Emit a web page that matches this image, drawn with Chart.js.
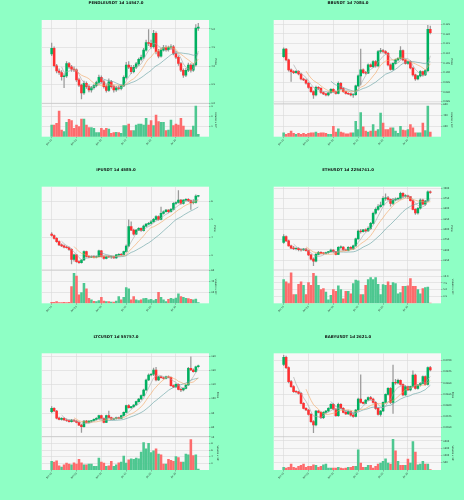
<!DOCTYPE html>
<html><head><meta charset="utf-8">
<script src="https://cdn.jsdelivr.net/npm/chart.js@4.4.1/dist/chart.umd.min.js"></script>
<style>
html,body{margin:0;padding:0;background:#8effc5;}
#wrap{position:relative;width:464px;height:500px;overflow:hidden;background:#8effc5;}
canvas{position:absolute;}
.ttl{position:absolute;width:232px;text-align:center;font-family:'DejaVu Sans',sans-serif;font-weight:bold;font-size:3.9px;line-height:5px;color:#111;white-space:nowrap;}
</style></head><body><div id="wrap"></div>
<script>
// ---------- data ----------
const tickIdx = [0, 10, 20, 30, 40, 50];
const tickDates = ['Jun 10', 'Jun 20', 'Jun 30', 'Jul 10', 'Jul 20', 'Jul 30'];
const mavWindows = [5, 10, 20];

// [open, high, low, close]
const pendleOHLC = [
[4.33,4.62,4.28,4.48],[4.48,4.52,3.98,4.01],[4.01,4.05,3.82,3.87],[3.87,3.93,3.78,3.83],[3.83,3.88,3.62,3.72],
[3.72,3.80,3.42,3.74],[3.74,4.12,3.70,4.07],[4.07,4.10,3.94,3.98],[3.98,4.02,3.86,3.92],[3.92,3.98,3.85,3.90],
[3.90,3.93,3.58,3.63],[3.63,3.68,3.45,3.49],[3.49,3.52,3.12,3.28],[3.28,3.60,3.24,3.54],[3.54,3.58,3.40,3.45],
[3.45,3.50,3.31,3.36],[3.36,3.46,3.30,3.42],[3.42,3.52,3.38,3.48],[3.48,3.60,3.44,3.56],[3.56,3.76,3.52,3.70],
[3.70,3.74,3.54,3.58],[3.58,3.62,3.41,3.45],[3.45,3.50,3.30,3.35],[3.35,3.66,3.32,3.58],[3.58,3.62,3.41,3.45],
[3.45,3.49,3.30,3.36],[3.36,3.46,3.32,3.42],[3.42,3.47,3.36,3.40],[3.40,3.50,3.36,3.47],[3.47,3.74,3.45,3.70],
[3.70,4.10,3.66,4.03],[4.03,4.12,3.93,3.97],[3.97,4.02,3.80,3.85],[3.85,4.02,3.82,3.97],[3.97,4.10,3.93,4.06],
[4.06,4.22,4.02,4.18],[4.18,4.30,4.14,4.24],[4.24,4.48,4.20,4.43],[4.43,4.70,4.40,4.63],[4.63,4.98,4.55,4.61],
[4.61,4.70,4.48,4.52],[4.52,4.96,4.48,4.88],[4.88,4.92,4.33,4.39],[4.39,4.45,4.22,4.27],[4.27,4.48,4.24,4.43],
[4.43,4.56,4.40,4.50],[4.50,4.55,4.40,4.44],[4.44,4.54,4.40,4.50],[4.50,4.58,4.45,4.52],[4.52,4.56,4.30,4.34],
[4.34,4.40,4.20,4.24],[4.24,4.28,4.02,4.07],[4.07,4.10,3.85,3.89],[3.89,3.93,3.70,3.76],[3.76,3.94,3.72,3.89],
[3.89,4.08,3.85,4.03],[4.03,4.07,3.84,3.89],[3.89,4.07,3.86,4.03],[4.03,5.12,4.00,5.02],[5.02,5.15,4.96,5.05]];
const pendleVol = [1.17,1.17,1.33,2.57,0.67,0.5,1.43,1.73,1.6,0.83,1.17,1.0,1.77,1.77,1.17,0.9,0.9,0.83,0.4,0.4,
0.83,0.67,0.83,0.77,0.33,0.4,0.43,0.4,0.33,1.1,1.1,1.27,0.6,0.6,1.17,1.27,1.27,1.17,1.83,1.17,
1.6,1.1,2.17,1.5,1.43,1.43,0.6,0.67,1.67,1.1,1.27,1.17,1.83,1.07,0.67,0.67,0.67,1.07,3.07,0.23];
const pendlePriceTicks = [3.0, 3.5, 4.0, 4.5, 5.0];
const pendleVolTicks = [1, 2, 3];

const bbOHLC = [
[.1083,.1128,.1078,.1121],[.1121,.1126,.1060,.1066],[.1066,.1070,.1008,.1014],[.1014,.1020,.0955,.1005],[.1005,.1010,.0994,.1000],
[.1000,.1012,.0996,.1006],[.1006,.1010,.0988,.0993],[.0993,.0998,.0962,.0967],[.0967,.0972,.0958,.0962],[.0962,.0966,.0940,.0945],
[.0945,.0950,.0918,.0924],[.0924,.0928,.0897,.0902],[.0902,.0906,.0867,.0884],[.0884,.0930,.0880,.0924],[.0924,.0928,.0912,.0919],
[.0919,.0922,.0893,.0897],[.0897,.0901,.0886,.0890],[.0890,.0894,.0879,.0884],[.0884,.0900,.0880,.0896],[.0896,.0918,.0892,.0914],
[.0914,.0917,.0898,.0902],[.0902,.0906,.0888,.0893],[.0893,.0952,.0890,.0945],[.0945,.0950,.0912,.0917],[.0917,.0921,.0898,.0902],
[.0902,.0905,.0889,.0893],[.0893,.0897,.0886,.0890],[.0890,.0893,.0880,.0884],[.0884,.0890,.0872,.0886],[.0886,.0936,.0882,.0931],
[.0931,.0988,.0926,.0983],[.0983,.1121,.0936,.1014],[.1014,.1020,.0995,.1000],[.1000,.1006,.0992,.0997],[.0997,.1046,.0994,.1040],
[.1040,.1045,.1028,.1031],[.1031,.1062,.1026,.1057],[.1057,.1062,.1028,.1034],[.1034,.1115,.1030,.1109],[.1109,.1125,.1100,.1114],
[.1114,.1120,.1102,.1109],[.1109,.1114,.1095,.1100],[.1100,.1105,.1035,.1040],[.1040,.1045,.1012,.1017],[.1017,.1052,.1012,.1048],
[.1048,.1070,.1044,.1066],[.1066,.1078,.1060,.1074],[.1074,.1134,.1070,.1114],[.1114,.1118,.1060,.1066],[.1066,.1070,.1044,.1048],
[.1048,.1060,.1042,.1057],[.1057,.1062,.1019,.1024],[.1024,.1028,.0982,.0988],[.0988,.0992,.0960,.0967],[.0967,.0986,.0962,.0983],
[.0983,.1010,.0978,.1005],[.1005,.1008,.0982,.0988],[.0988,.1014,.0984,.1010],[.1010,.1245,.1005,.1224],[.1224,.1240,.1200,.1207]];
const bbVol = [74,43,62,105,62,43,62,43,62,43,62,74,74,86,62,74,74,62,43,43,
197,86,148,86,74,55,55,74,74,289,135,455,185,105,86,105,228,105,135,443,
258,135,135,166,166,105,62,197,123,117,135,228,166,74,74,74,258,117,578,86];
const bbPriceTicks = [0.085,0.090,0.095,0.100,0.105,0.110,0.115,0.120,0.125];
const bbVolTicks = [200, 400, 600];

const ipOHLC = [
[4.20,4.28,4.08,4.12],[4.12,4.16,3.92,3.96],[3.96,4.00,3.74,3.78],[3.78,3.82,3.56,3.60],[3.60,3.66,3.50,3.55],
[3.55,3.60,3.44,3.48],[3.48,3.54,3.42,3.45],[3.45,3.50,3.30,3.36],[3.36,3.40,2.55,2.80],[2.80,3.10,2.70,3.05],
[3.05,3.08,2.64,2.68],[2.68,2.74,2.58,2.63],[2.63,2.80,2.60,2.77],[2.77,3.28,2.74,3.23],[3.23,3.26,2.92,2.97],
[2.97,3.02,2.88,2.93],[2.93,3.00,2.90,2.96],[2.96,3.00,2.88,2.92],[2.92,3.00,2.88,2.96],[2.96,3.32,2.94,3.27],
[3.27,3.30,2.93,2.96],[2.96,3.00,2.82,2.86],[2.86,2.98,2.83,2.95],[2.95,3.00,2.90,2.94],[2.94,2.99,2.86,2.96],
[2.96,2.99,2.86,2.89],[2.89,3.08,2.86,3.05],[3.05,3.12,3.00,3.08],[3.08,3.14,3.02,3.06],[3.06,3.26,3.04,3.23],
[3.23,3.60,3.20,3.54],[3.54,4.98,3.50,4.61],[4.61,4.88,4.38,4.42],[4.42,4.48,4.14,4.20],[4.20,4.46,4.16,4.42],
[4.42,4.56,4.38,4.51],[4.51,4.55,4.34,4.39],[4.39,4.70,4.36,4.64],[4.64,4.78,4.60,4.75],[4.75,4.84,4.70,4.79],
[4.79,4.95,4.74,4.88],[4.88,5.06,4.84,5.01],[5.01,5.22,4.96,5.16],[5.16,5.20,4.96,5.01],[5.01,5.68,4.98,5.34],
[5.34,5.48,5.30,5.43],[5.43,5.56,5.40,5.52],[5.52,5.55,5.38,5.43],[5.43,5.62,5.40,5.56],[5.56,5.94,5.52,5.89],
[5.89,5.98,5.84,5.94],[5.94,6.60,5.90,6.07],[6.07,6.12,5.84,5.89],[5.89,6.10,5.85,6.07],[6.07,6.16,6.02,6.11],
[6.11,6.15,5.98,6.04],[6.04,6.08,5.56,5.93],[5.93,6.10,5.86,5.94],[5.94,6.36,5.90,6.29],[6.29,6.34,6.24,6.30]];
const ipVol = [1.8,1.8,3.0,1.2,1.2,1.8,1.2,1.8,30.3,54.5,49.7,15.2,19.4,36.4,26.1,9.1,6.1,3.6,3.0,4.8,
10.9,4.2,3.0,3.0,2.4,2.4,4.2,12.1,6.1,10.9,28.5,26.1,6.1,12.1,6.1,4.8,6.1,8.5,9.1,6.1,
7.3,4.8,7.3,20.0,10.9,6.1,3.0,7.3,9.1,7.9,9.7,17.0,12.1,10.9,9.1,8.5,7.3,6.1,7.9,1.2];
const ipPriceTicks = [3, 4, 5, 6];
const ipVolTicks = [20, 40, 60];

const ethOHLC = [
[2685,2870,2660,2823],[2823,2840,2700,2720],[2720,2740,2590,2600],[2600,2620,2530,2545],[2545,2590,2510,2530],
[2530,2560,2500,2540],[2540,2560,2480,2505],[2505,2530,2470,2500],[2500,2540,2490,2525],[2525,2540,2470,2485],
[2485,2500,2360,2380],[2380,2400,2260,2280],[2280,2310,2120,2230],[2230,2420,2210,2395],[2395,2470,2380,2445],
[2445,2460,2400,2420],[2420,2440,2390,2418],[2418,2450,2400,2435],[2435,2470,2420,2460],[2460,2520,2450,2500],
[2500,2510,2440,2460],[2460,2470,2380,2395],[2395,2580,2385,2565],[2565,2600,2540,2570],[2570,2580,2490,2500],
[2500,2525,2485,2490],[2490,2580,2480,2565],[2565,2580,2510,2525],[2525,2620,2515,2600],[2600,2790,2590,2770],
[2770,2990,2760,2960],[2960,3000,2910,2945],[2945,3000,2930,2985],[2985,3010,2940,2960],[2960,3060,2950,3025],
[3025,3170,3000,3145],[3145,3420,3130,3390],[3390,3520,3370,3485],[3485,3600,3460,3550],[3550,3660,3530,3590],
[3590,3790,3580,3750],[3750,3860,3700,3765],[3765,3800,3700,3725],[3725,3740,3560,3630],[3630,3750,3600,3710],
[3710,3760,3690,3735],[3735,3770,3710,3750],[3750,3900,3730,3870],[3870,3890,3760,3805],[3805,3840,3770,3810],
[3810,3830,3740,3790],[3790,3800,3680,3695],[3695,3710,3470,3485],[3485,3500,3360,3400],[3400,3530,3370,3510],
[3510,3740,3490,3710],[3710,3730,3590,3610],[3610,3700,3580,3685],[3685,3930,3670,3910],[3910,3930,3870,3895]];
const ethVol = [8.75,7.9,7.25,11.25,3.25,3.25,7.0,7.9,6.6,3.25,7.6,6.6,11.0,10.0,6.6,5.0,5.4,4.1,1.25,2.9,
5.0,4.4,6.4,5.0,1.6,4.4,4.4,3.5,7.25,8.5,8.25,3.25,3.25,6.6,8.75,9.5,8.75,9.5,7.0,3.25,
6.9,6.6,7.9,6.6,7.6,7.25,3.5,3.9,6.25,6.25,6.4,9.1,6.25,6.25,5.0,3.5,5.4,5.75,6.0,0.1];
const ethPriceTicks = [2250, 2500, 2750, 3000, 3250, 3500, 3750, 4000];
const ethVolTicks = [2.5, 5.0, 7.5, 10.0];

const ltcOHLC = [
[91.0,94.5,90.2,93.3],[93.3,93.8,91.0,91.5],[91.5,92.0,86.0,86.5],[86.5,87.3,85.2,85.6],[85.6,86.8,85.0,86.3],
[86.3,86.8,84.8,85.2],[85.2,86.0,84.2,84.8],[84.8,85.4,83.6,84.0],[84.0,85.6,83.7,85.1],[85.1,85.5,84.1,84.4],
[84.4,84.8,83.1,83.5],[83.5,84.0,81.2,81.6],[81.6,82.2,76.5,80.5],[80.5,84.8,80.2,84.4],[84.4,84.9,83.2,83.5],
[83.5,84.8,83.2,84.4],[84.4,85.0,83.9,84.7],[84.7,86.0,84.4,85.6],[85.6,86.8,85.3,86.3],[86.3,88.6,86.0,88.2],
[88.2,88.6,86.0,86.3],[86.3,86.7,83.2,83.5],[83.5,88.6,83.3,88.2],[88.2,91.5,86.5,86.8],[86.8,87.3,85.5,85.8],
[85.8,86.6,85.4,86.2],[86.2,87.2,85.8,86.9],[86.9,87.3,86.0,86.3],[86.3,88.6,86.1,88.2],[88.2,90.9,88.0,90.5],
[90.5,95.6,90.3,95.2],[95.2,96.0,93.4,93.8],[93.8,94.8,93.2,94.5],[94.5,96.0,94.0,95.7],[95.7,98.4,95.3,98.0],
[98.0,100.4,97.6,99.9],[99.9,102.8,99.5,102.2],[102.2,106.8,101.8,106.2],[106.2,113.8,105.8,113.2],[113.2,117.5,112.8,116.7],
[116.7,117.8,116.0,117.2],[117.2,121.5,116.2,120.2],[120.2,122.0,112.5,113.2],[113.2,115.8,112.8,115.5],[115.5,116.0,114.4,114.8],
[114.8,115.2,113.8,114.3],[114.3,115.9,114.0,115.5],[115.5,116.2,114.6,115.0],[115.0,115.4,108.8,109.2],[109.2,109.8,107.8,108.3],
[108.3,110.6,108.0,110.1],[110.1,110.5,106.2,106.6],[106.6,107.5,105.0,106.2],[106.2,107.6,105.6,107.3],[107.3,110.2,107.0,109.7],
[109.7,122.0,109.4,121.4],[121.4,129.5,119.8,120.2],[120.2,121.0,118.6,119.0],[119.0,123.0,118.7,122.5],[122.5,123.6,122.0,123.2]];
const ltcVol = [2.6,2.4,2.8,1.3,0.9,1.6,2.1,1.8,1.6,2.2,1.8,3.2,2.2,1.6,1.6,1.8,1.8,1.1,1.1,3.6,
2.4,2.1,1.1,1.3,2.6,1.1,1.6,2.2,2.4,4.2,2.1,3.1,3.4,3.2,3.6,3.4,5.4,8.3,6.4,8.1,
5.3,5.8,6.4,4.8,4.6,1.8,1.8,3.2,2.9,2.6,4.1,3.8,2.4,2.4,4.8,4.6,9.2,4.4,4.6,0.3];
const ltcPriceTicks = [80, 90, 100, 110, 120, 130];
const ltcVolTicks = [2, 4, 6, 8, 10];

const babyOHLC = [
[0.06918,0.07120,0.06890,0.07075],[0.07075,0.07100,0.06820,0.06843],[0.06843,0.06860,0.06500,0.06530],[0.06530,0.06560,0.06400,0.06418],[0.06418,0.06440,0.06290,0.06306],
[0.06306,0.06330,0.06280,0.06300],[0.06300,0.06320,0.06250,0.06269],[0.06269,0.06290,0.06030,0.06045],[0.06045,0.06060,0.05920,0.05933],[0.05933,0.05950,0.05880,0.05896],
[0.05896,0.05910,0.05780,0.05799],[0.05799,0.05820,0.05620,0.05635],[0.05635,0.05660,0.05390,0.05560],[0.05560,0.05890,0.05540,0.05874],[0.05874,0.05890,0.05830,0.05844],
[0.05844,0.05860,0.05700,0.05724],[0.05724,0.05860,0.05700,0.05844],[0.05844,0.05890,0.05820,0.05874],[0.05874,0.05950,0.05860,0.05933],[0.05933,0.06040,0.05920,0.06023],
[0.06023,0.06040,0.05900,0.05918],[0.05918,0.05930,0.05750,0.05769],[0.05769,0.06050,0.05750,0.06023],[0.06023,0.06040,0.05920,0.05933],[0.05933,0.05950,0.05830,0.05844],
[0.05844,0.05880,0.05790,0.05810],[0.05810,0.05880,0.05800,0.05860],[0.05860,0.05880,0.05760,0.05780],[0.05780,0.05830,0.05730,0.05750],[0.05750,0.05910,0.05740,0.05896],
[0.05896,0.06160,0.05880,0.06142],[0.06142,0.06680,0.06050,0.06067],[0.06067,0.06080,0.06030,0.06045],[0.06045,0.06130,0.06030,0.06120],[0.06120,0.06190,0.06100,0.06172],
[0.06172,0.06200,0.06130,0.06142],[0.06142,0.06160,0.06050,0.06067],[0.06067,0.06080,0.05910,0.05933],[0.05933,0.05950,0.05780,0.05799],[0.05799,0.05890,0.05760,0.05874],
[0.05874,0.06080,0.05860,0.06067],[0.06067,0.06260,0.06050,0.06247],[0.06247,0.06400,0.06230,0.06381],[0.06381,0.06400,0.06040,0.06067],[0.06067,0.06900,0.05820,0.06515],
[0.06515,0.06580,0.06470,0.06500],[0.06500,0.06590,0.06480,0.06560],[0.06560,0.06570,0.06450,0.06470],[0.06470,0.06480,0.06210,0.06232],[0.06232,0.06440,0.06220,0.06418],
[0.06418,0.06430,0.06330,0.06344],[0.06344,0.06430,0.06320,0.06418],[0.06418,0.06770,0.06400,0.06679],[0.06679,0.06700,0.06360,0.06381],[0.06381,0.06470,0.06360,0.06455],
[0.06455,0.06510,0.06430,0.06493],[0.06493,0.06660,0.06480,0.06642],[0.06642,0.06660,0.06450,0.06470],[0.06470,0.06860,0.06450,0.06843],[0.06843,0.06870,0.06770,0.06790]];
const babyVol = [182,136,182,409,182,136,250,318,409,182,250,250,364,318,182,250,364,409,136,136,
136,136,182,136,91,136,182,182,250,250,1386,477,182,182,318,318,136,250,409,477,
591,773,477,409,2114,1318,591,318,318,318,750,477,1955,1227,364,409,591,409,409,23];
const babyPriceTicks = [0.0550, 0.0575, 0.0600, 0.0625, 0.0650, 0.0675, 0.0700];
const babyVolTicks = [500, 1000, 1500, 2000];

// ---------- layout / style ----------
const COLORS = {
  bg: '#8effc5', face: '#f7f7f7', grid: '#d9d9d9', sep: '#c4c4c4',
  up: '#00b060', down: '#fe3032', volUp: '#4dc790', volDown: '#fd6b6c',
  wick: '#9a9a9a', mav: ['#a5a5a5', '#f4a460', '#5f9ea0'], text: '#222'
};
const XH = 10;

const panels = [
  {title:'PENDLEUSDT 1d 14547.0', ohlc:pendleOHLC, vol:pendleVol, pT:pendlePriceTicks, vT:pendleVolTicks, pDec:1, vDec:0,
   pMin:3.0, pMax:5.24, vMax:3.33, vLab:'Volume x 10\u2076', cx:0, cy:0, cw:232, ch:160, L:41.7, T:20, R:209, B:136.7, W:8.3, ty:2.7},
  {title:'BBUSDT 1d 7084.0', ohlc:bbOHLC, vol:bbVol, pT:bbPriceTicks, vT:bbVolTicks, pDec:3, vDec:0,
   pMin:0.0841, pMax:0.1272, vMax:627, vLab:'Volume x 10\u2075', cx:232, cy:0, cw:232, ch:160, L:273.7, T:20, R:441, B:136.7, W:11.9, ty:2.7},
  {title:'IPUSDT 1d 4585.0', ohlc:ipOHLC, vol:ipVol, pT:ipPriceTicks, vT:ipVolTicks, pDec:0, vDec:0,
   pMin:2.22, pMax:6.81, vMax:60.6, vLab:'Volume x 10\u2075', cx:0, cy:160, cw:232, ch:165, L:41.7, T:186.7, R:209, B:303.3, W:7.6, ty:169.3},
  {title:'ETHUSDT 1d 2254741.0', ohlc:ethOHLC, vol:ethVol, pT:ethPriceTicks, vT:ethVolTicks, pDec:0, vDec:1,
   pMin:2016, pMax:4032, vMax:12.25, vLab:'Volume x 10\u2075', cx:232, cy:160, cw:232, ch:165, L:273.7, T:186.7, R:441, B:303.3, W:12.6, ty:169.3},
  {title:'LTCUSDT 1d 55757.0', ohlc:ltcOHLC, vol:ltcVol, pT:ltcPriceTicks, vT:ltcVolTicks, pDec:0, vDec:0,
   pMin:73.5, pMax:131.9, vMax:10.1, vLab:'Volume x 10\u2075', cx:0, cy:325, cw:232, ch:175, L:41.7, T:353.3, R:209, B:470, W:9.9, ty:336.7},
  {title:'BABYUSDT 1d 2621.0', ohlc:babyOHLC, vol:babyVol, pT:babyPriceTicks, vT:babyVolTicks, pDec:4, vDec:0,
   pMin:0.0530, pMax:0.07164, vMax:2296, vLab:'Volume x 10\u2075', cx:232, cy:325, cw:232, ch:175, L:273.7, T:353.3, R:441, B:470, W:13.3, ty:336.7}
];

Chart.defaults.font.family = "'DejaVu Sans', sans-serif";
Chart.defaults.color = COLORS.text;

const facePlugin = {
  id: 'face',
  beforeDraw(c) {
    const a = c.chartArea, ctx = c.ctx;
    ctx.save(); ctx.fillStyle = COLORS.face;
    ctx.fillRect(a.left, a.top, a.right - a.left, a.bottom - a.top); ctx.restore();
  },
  beforeDatasetsDraw(c) {
    const a = c.chartArea, ctx = c.ctx, y = c.scales.yP.bottom;
    ctx.save(); ctx.strokeStyle = COLORS.sep; ctx.lineWidth = 0.7;
    ctx.beginPath(); ctx.moveTo(a.left, y); ctx.lineTo(a.right, y); ctx.stroke(); ctx.restore();
  }
};

const wrap = document.getElementById('wrap');

function movingAverage(closes, w) {
  const out = [];
  for (let i = w - 1; i < closes.length; i++) {
    let s = 0; for (let k = i - w + 1; k <= i; k++) s += closes[k];
    out.push({x: i, y: s / w});
  }
  return out;
}

panels.forEach(p => {
  const cv = document.createElement('canvas');
  cv.width = p.cw; cv.height = p.ch;
  cv.style.left = p.cx + 'px'; cv.style.top = p.cy + 'px';
  cv.style.width = p.cw + 'px'; cv.style.height = p.ch + 'px';
  wrap.appendChild(cv);
  const t = document.createElement('div');
  t.className = 'ttl'; t.textContent = p.title;
  t.style.left = p.cx + 'px'; t.style.top = (p.ty - 2.5) + 'px';
  wrap.appendChild(t);

  const closes = p.ohlc.map(r => r[3]);
  const up = p.ohlc.map(r => r[3] >= r[0]);
  const fontTick = {size: 2.3};
  const yCommon = (ticks, dec) => ({
    type: 'linear', position: 'right', stack: 'main',
    afterFit: s => { s.width = p.W; },
    afterBuildTicks: s => { s.ticks = ticks.map(v => ({value: v})); },
    ticks: {font: fontTick, padding: 0.8, callback: v => Number(v).toFixed(dec), autoSkip: false},
    grid: {color: COLORS.grid, lineWidth: 0.6, tickLength: 1.5, tickColor: '#777', tickWidth: 0.5},
    border: {display: false}
  });
  const yP = Object.assign(yCommon(p.pT, p.pDec), {min: p.pMin, max: p.pMax, stackWeight: 5,
    title: {display: true, text: 'Price', font: {size: 2.6}, padding: 0}});
  const yV = Object.assign(yCommon(p.vT, p.vDec), {min: 0, max: p.vMax, stackWeight: 2,
    title: {display: true, text: p.vLab, font: {size: 2.4}, padding: 0}});

  new Chart(cv, {
    type: 'bar',
    data: {
      datasets: [
        {type: 'bar', label: 'wick', data: p.ohlc.map((r, i) => ({x: i, y: [r[2], r[1]]})), yAxisID: 'yP',
         backgroundColor: COLORS.wick, barThickness: 0.6, grouped: false, order: 4},
        {type: 'bar', label: 'body', data: p.ohlc.map((r, i) => ({x: i, y: [r[0], r[3]]})), yAxisID: 'yP',
         backgroundColor: up.map(u => u ? COLORS.up : COLORS.down), barThickness: 1.9, minBarLength: 0.5, grouped: false, order: 3},
        {type: 'bar', label: 'volume', data: p.vol.map((v, i) => ({x: i, y: v})), yAxisID: 'yV',
         backgroundColor: up.map(u => u ? COLORS.volUp : COLORS.volDown), barThickness: 1.9, grouped: false, order: 3},
        ...mavWindows.map((w, k) => ({type: 'line', label: 'MA' + w, data: movingAverage(closes, w), yAxisID: 'yP',
         borderColor: COLORS.mav[k], borderWidth: 0.6, pointRadius: 0, tension: 0, fill: false, order: 1}))
      ]
    },
    options: {
      responsive: false, animation: false, devicePixelRatio: 1,
      layout: {padding: {left: p.L - p.cx, top: p.T - p.cy, right: p.cw - (p.R - p.cx) - p.W, bottom: p.ch - (p.B - p.cy) - XH}},
      plugins: {legend: {display: false}, tooltip: {enabled: false}, title: {display: false}},
      scales: {
        x: {type: 'linear', min: -4.0, max: 63.3, offset: false,
            afterFit: s => { s.height = XH; },
            afterBuildTicks: s => { s.ticks = tickIdx.map(v => ({value: v})); },
            ticks: {font: fontTick, minRotation: 45, maxRotation: 45, autoSkip: false, padding: 0.5,
                    callback: (v, i) => tickDates[i]},
            grid: {offset: false, color: COLORS.grid, lineWidth: 0.6, tickLength: 1.5, tickColor: '#777', tickWidth: 0.5},
            border: {display: false}},
        yP: yP,
        yV: yV
      }
    },
    plugins: [facePlugin]
  });
});
</script>
</body></html>
